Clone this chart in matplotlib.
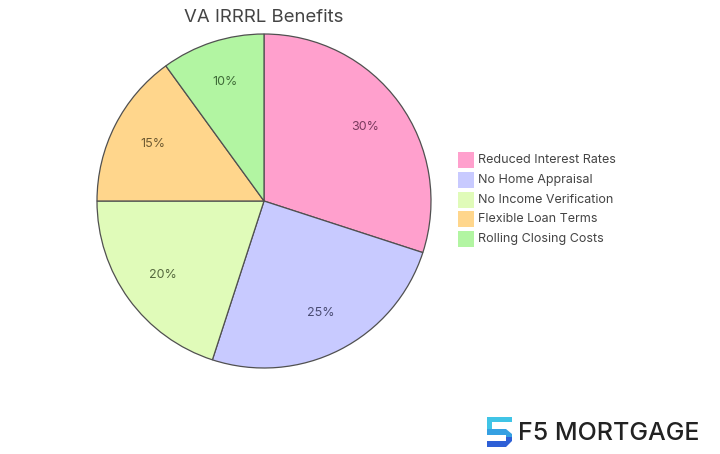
import matplotlib.pyplot as plt
from matplotlib.patches import Rectangle, Polygon

# data
labels = ["Reduced Interest Rates", "No Home Appraisal", "No Income Verification",
          "Flexible Loan Terms", "Rolling Closing Costs"]
values = [30, 25, 20, 15, 10]
colors = ["#FFA0CD", "#C8CAFF", "#E0FBB9", "#FFD68C", "#B2F5A2"]
text_colors = ["#7A3A5E", "#4A4C73", "#55683E", "#6E5A32", "#3F6B38"]

plt.rcParams['font.family'] = ['Inter', 'DejaVu Sans']

W, H = 720, 454
fig = plt.figure(figsize=(7.2, 4.54), dpi=100)
fig.patch.set_facecolor("white")

# pie: center (264, 201) px, radius 167 px
cx, cy, r = 264, 201, 167
ax = fig.add_axes([(cx - r) / W, (H - cy - r) / H, 2 * r / W, 2 * r / H])
wedges, texts, autotexts = ax.pie(values, colors=colors, startangle=90, counterclock=False,
                                  autopct='%d%%', pctdistance=0.75,
                                  wedgeprops=dict(edgecolor="#505050", linewidth=0.9),
                                  textprops=dict(fontsize=9))
for t, c in zip(autotexts, text_colors):
    t.set_color(c)
ax.set_xlim(-1, 1)
ax.set_ylim(-1, 1)
ax.set_aspect('equal')

fig.text(cx / W, 1 - 17 / H, "VA IRRRL Benefits", ha="center", va="center",
         fontsize=13.4, color="#444444")

# legend
for i, (lab, col) in enumerate(zip(labels, colors)):
    yc = 160 + i * 19.8
    fig.patches.append(Rectangle((458 / W, 1 - (yc + 8) / H), 16 / W, 16 / H,
                                 transform=fig.transFigure, facecolor=col, edgecolor="none"))
    fig.text(478 / W, 1 - yc / H, lab, ha="left", va="center", fontsize=9, color="#444444")

# logo
def px(x, y):
    return (x / W, 1 - y / H)

top = [(487, 417), (512, 417), (512, 422), (492, 422), (492, 431), (487, 431)]
mid = [(487, 429), (506, 429), (512, 434), (512, 439), (506, 439), (506, 435), (487, 435)]
bot = [(506, 437), (512, 437), (512, 441), (506, 447), (487, 447), (487, 441), (506, 441)]
for pts, c in [(top, "#40C4E6"), (mid, "#35A0E2"), (bot, "#2E5FD6")]:
    fig.patches.append(Polygon([px(*p) for p in pts], closed=True, transform=fig.transFigure,
                               facecolor=c, edgecolor="none"))
fig.text(518 / W, 1 - 433 / H, "F5 MORTGAGE", ha="left", va="center", fontsize=18,
         fontweight="medium", color="#222222")

fig.savefig("out.png", dpi=100)
